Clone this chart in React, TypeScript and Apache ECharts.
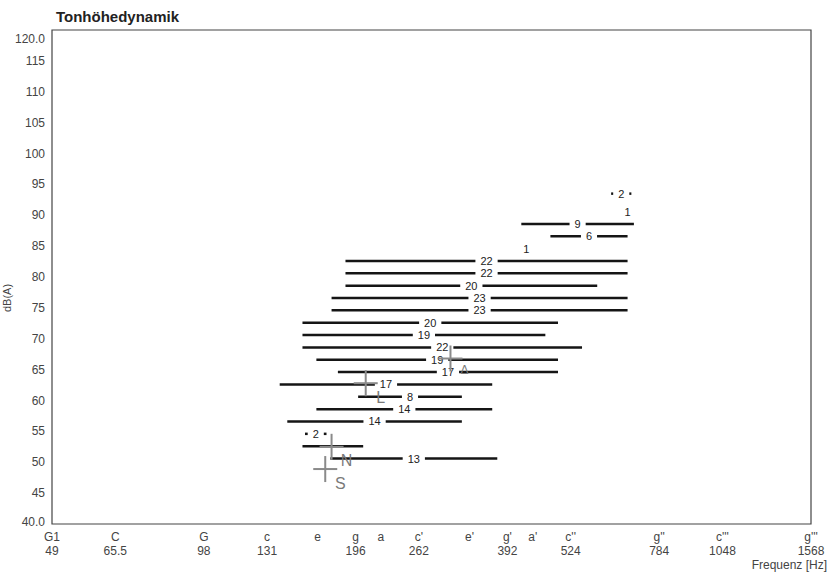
import React, { useEffect, useRef } from "react";
import * as echarts from "echarts";

// x positions are semitones above G1 (49 Hz)
const tickSemitones = [0, 5, 12, 17, 21, 24, 26, 29, 33, 36, 38, 41, 48, 53, 60];
const tickNotes = ["G1", "C", "G", "c", "e", "g", "a", "c'", "e'", "g'", "a'", "c''", "g''", "c'''", "g'''"];
const tickFreqs = ["49", "65.5", "98", "131", "", "196", "", "262", "", "392", "", "524", "784", "1048", "1568"];

// rows of the voice range profile (dB level, semitone range, count)
const rowLevels = [50.6, 52.6, 54.6, 56.6, 58.6, 60.6, 62.6, 64.6, 66.6, 68.6, 70.6, 72.6, 74.6, 76.6, 78.6, 80.6, 82.6, 84.6, 86.6, 88.6, 90.6, 93.5];
const rowStart = [22.0, 19.8, 20.0, 18.6, 20.9, 24.2, 18.0, 22.6, 20.9, 19.8, 19.8, 19.8, 22.1, 22.1, 23.2, 23.2, 23.2, 37.5, 39.4, 37.1, 45.5, 44.2];
const rowEnd = [35.2, 24.6, 21.7, 32.4, 34.8, 32.4, 34.8, 40.0, 40.0, 41.9, 39.0, 40.0, 45.5, 45.5, 43.1, 45.5, 45.5, 37.5, 45.5, 46.0, 45.5, 45.8];
const rowCounts: (number | null)[] = [13, null, 2, 14, 14, 8, 17, 17, 19, 22, 19, 20, 23, 23, 20, 22, 22, 1, 6, 9, 1, 2];

// speaking voice markers
const markerLabels = ["S", "N", "L", "Δ"];
const markerSemitone = [21.6, 22.1, 24.8, 31.5];
const markerLevel = [48.9, 52.5, 62.8, 66.8];

const FONT = "'Liberation Sans', Arial, sans-serif";

export default function App() {
  const ref = useRef<HTMLDivElement>(null);
  useEffect(() => {
    if (!ref.current) return;
    const chart = echarts.init(ref.current, null, { renderer: "svg" });
    const option: any = {
      animation: false,
      backgroundColor: "#fff",
      textStyle: { fontFamily: FONT },
      title: {
        text: "Tonhöhedynamik",
        left: 51,
        top: 4,
        textStyle: { fontSize: 15, fontWeight: "bold", color: "#222", fontFamily: FONT },
      },
      grid: {
        left: 52,
        top: 30,
        width: 759,
        height: 494,
        show: true,
        borderColor: "#444",
        borderWidth: 1.2,
        backgroundColor: "transparent",
      },
      xAxis: {
        type: "value",
        min: 0,
        max: 60,
        interval: 1,
        axisLine: { show: false },
        axisTick: { show: false },
        splitLine: { show: false },
        axisLabel: {
          margin: 6,
          fontSize: 12,
          lineHeight: 14,
          color: "#444",
          fontFamily: FONT,
          formatter: (v: number) => {
            const r = Math.round(v);
            if (Math.abs(v - r) > 1e-6) return "";
            const i = tickSemitones.indexOf(r);
            if (i < 0) return "";
            return tickFreqs[i] ? `${tickNotes[i]}\n${tickFreqs[i]}` : tickNotes[i];
          },
        },
      },
      yAxis: {
        type: "value",
        min: 40,
        max: 120,
        interval: 5,
        axisLine: { show: false },
        axisTick: { show: false },
        splitLine: { show: false },
        axisLabel: {
          margin: 7,
          fontSize: 12,
          color: "#444",
          fontFamily: FONT,
          formatter: (v: number) => {
            if (v === 120) return "{top|120.0}";
            if (v === 40) return "{bot|40.0}";
            return String(v);
          },
          rich: {
            top: { fontSize: 12, color: "#444", fontFamily: FONT, padding: [18, 0, 0, 0] },
            bot: { fontSize: 12, color: "#444", fontFamily: FONT, padding: [0, 0, 4, 0] },
          },
        },
      },
      graphic: [
        {
          type: "text",
          right: 4,
          top: 559,
          style: { text: "Frequenz [Hz]", fill: "#444", fontSize: 12, fontFamily: FONT },
        },
        {
          type: "text",
          x: 7,
          y: 298,
          rotation: Math.PI / 2,
          style: {
            text: "dB(A)",
            fill: "#444",
            fontSize: 11,
            fontFamily: FONT,
            align: "center",
            verticalAlign: "middle",
          },
        },
      ],
      series: [
        {
          type: "custom",
          z: 2,
          encode: { x: [0, 1], y: 2 },
          data: rowLevels.map((l, i) => [rowStart[i], rowEnd[i], l]),
          renderItem: (params: any, api: any) => {
            const lvl = api.value(2);
            const a = api.coord([api.value(0), lvl]);
            const b = api.coord([api.value(1), lvl]);
            const label = rowCounts[params.dataIndex];
            const children: any[] = [
              {
                type: "line",
                shape: { x1: a[0], y1: a[1], x2: b[0], y2: b[1] },
                style: { stroke: "#151515", lineWidth: 2.5 },
              },
            ];
            if (label != null) {
              children.push({
                type: "text",
                style: {
                  text: String(label),
                  x: (a[0] + b[0]) / 2,
                  y: a[1],
                  align: "center",
                  verticalAlign: "middle",
                  fill: "#222",
                  fontSize: 11,
                  fontFamily: FONT,
                  backgroundColor: "#fff",
                  padding: [0, 5, 0, 5],
                },
              });
            }
            return { type: "group", children };
          },
        },
        {
          type: "custom",
          z: 3,
          encode: { x: 0, y: 1 },
          data: markerSemitone.map((s, i) => [s, markerLevel[i]]),
          renderItem: (params: any, api: any) => {
            const p = api.coord([api.value(0), api.value(1)]);
            const lab = markerLabels[params.dataIndex];
            const small = lab === "Δ";
            return {
              type: "group",
              children: [
                {
                  type: "line",
                  shape: { x1: p[0] - 12, y1: p[1], x2: p[0] + 12, y2: p[1] },
                  style: { stroke: "#8a8a8a", lineWidth: 2 },
                },
                {
                  type: "line",
                  shape: { x1: p[0], y1: p[1] - 13, x2: p[0], y2: p[1] + 13 },
                  style: { stroke: "#8a8a8a", lineWidth: 2 },
                },
                {
                  type: "text",
                  style: {
                    text: lab,
                    x: p[0] + (small ? 14 : 15),
                    y: p[1] + (small ? 11 : 14),
                    align: "center",
                    verticalAlign: "middle",
                    fill: "#7a7a7a",
                    fontSize: small ? 12 : 16,
                    fontFamily: FONT,
                  },
                },
              ],
            };
          },
        },
      ],
    };
    chart.setOption(option);
    return () => chart.dispose();
  }, []);
  return (
    <div
      ref={ref}
      style={{ position: "absolute", left: 0, top: 0, width: 831, height: 573 }}
    />
  );
}
